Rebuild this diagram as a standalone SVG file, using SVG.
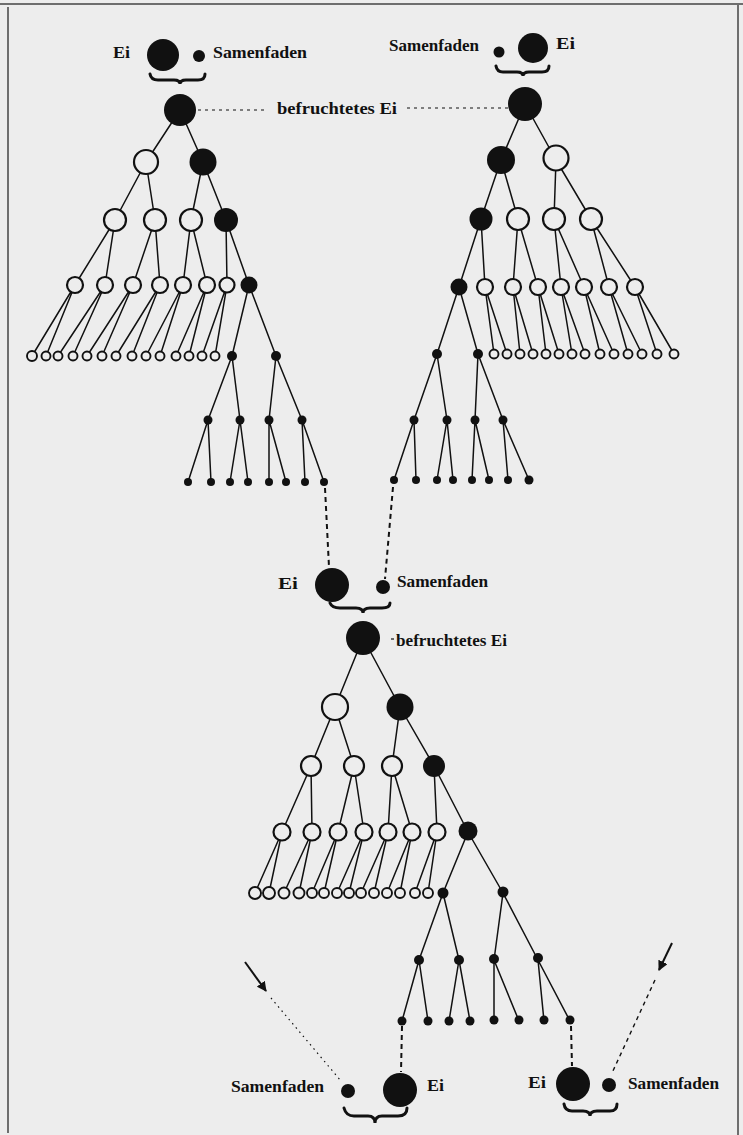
<svg xmlns="http://www.w3.org/2000/svg" width="743" height="1135" viewBox="0 0 743 1135">
<defs>
<style>
.e{stroke:#111;stroke-width:1.5;fill:none}
.o{fill:#ededed;stroke:#111;stroke-width:2.2}
.os{fill:#ededed;stroke:#111;stroke-width:1.9}
.f{fill:#111}
.d{stroke:#111;stroke-width:1.2;fill:none;stroke-dasharray:3 4}
.dv{stroke:#111;stroke-width:2;fill:none;stroke-dasharray:5 4}
.br{stroke:#111;stroke-width:3;fill:none;stroke-linecap:round}
.t{font-family:"Liberation Serif","DejaVu Serif",serif;font-weight:bold;font-size:16px;fill:#111}
.bd{stroke:#444;stroke-width:1.5;fill:none}
</style>
<marker id="ah" viewBox="0 0 10 10" refX="9" refY="5" markerWidth="5" markerHeight="5" orient="auto">
<path d="M0,0 L10,5 L0,10 z" fill="#111"/>
</marker>
</defs>
<rect width="743" height="1135" fill="#ededed"/>
<g id="border">
<path class="bd" d="M0,4 H743 M8,7 V1133 M738,5 V1135"/>
</g>
<g id="connectors">
<!-- top-left tree edges -->
<path class="e" d="M180,110 L146,162 M180,110 L203,162
M146,162 L115,220 M146,162 L155,220 M203,162 L191,220 M203,162 L226,220
M115,220 L75,285 M115,220 L105,285 M155,220 L133,285 M155,220 L160,285 M191,220 L183,285 M191,220 L207,285 M226,220 L227,285 M226,220 L249,285
M75,285 L32,356 M75,285 L46,356 M105,285 L58,356 M105,285 L73,356 M133,285 L87,356 M133,285 L102,356 M160,285 L116,356 M160,285 L132,356 M183,285 L146,356 M183,285 L160,356 M207,285 L176,356 M207,285 L189,356 M227,285 L202,356 M227,285 L215,356 M249,285 L232,356 M249,285 L276,356
M232,356 L208,420 M232,356 L240,420 M276,356 L269,420 M276,356 L302,420
M208,420 L188,482 M208,420 L211,482 M240,420 L230,482 M240,420 L248,482 M269,420 L269,482 M269,420 L286,482 M302,420 L305,482 M302,420 L324,482"/>
<!-- top-right tree edges -->
<path class="e" d="M525,104 L501,160 M525,104 L556,160
M501,160 L481,219 M501,160 L518,219 M556,160 L554,219 M556,160 L591,219
M481,219 L459,287 M481,219 L485,287 M518,219 L513,287 M518,219 L538,287 M554,219 L561,287 M554,219 L584,287 M591,219 L609,287 M591,219 L635,287
M459,287 L437,354 M459,287 L478,354 M485,287 L494,354 M485,287 L507,354 M513,287 L520,354 M513,287 L533,354 M538,287 L546,354 M538,287 L559,354 M561,287 L572,354 M561,287 L585,354 M584,287 L600,354 M584,287 L614,354 M609,287 L628,354 M609,287 L642,354 M635,287 L657,354 M635,287 L674,354
M437,354 L414,420 M437,354 L447,420 M478,354 L475,420 M478,354 L503,420
M414,420 L394,480 M414,420 L416,480 M447,420 L437,480 M447,420 L453,480 M475,420 L472,480 M475,420 L489,480 M503,420 L508,480 M503,420 L529,480"/>
<!-- bottom tree edges -->
<path class="e" d="M363,638 L335,707 M363,638 L400,707
M335,707 L311,766 M335,707 L354,766 M400,707 L392,766 M400,707 L434,766
M311,766 L282,832 M311,766 L312,832 M354,766 L338,832 M354,766 L364,832 M392,766 L388,832 M392,766 L412,832 M434,766 L437,832 M434,766 L468,832
M282,832 L255,893 M282,832 L269,893 M312,832 L284,893 M312,832 L299,893 M338,832 L312,893 M338,832 L324,893 M364,832 L337,893 M364,832 L349,893 M388,832 L361,893 M388,832 L374,893 M412,832 L387,893 M412,832 L400,893 M437,832 L415,893 M437,832 L428,893 M468,832 L443,893 M468,832 L503,893
M443,893 L419,960 M443,893 L459,960 M503,893 L494,960 M503,893 L538,960
M419,960 L402,1021 M419,960 L428,1021 M459,960 L449,1021 M459,960 L470,1021 M494,960 L494,1021 M494,960 L519,1021 M538,960 L544,1021 M538,960 L570,1021"/>
<!-- dashed connections -->
<path class="d" d="M198,110 H268"/>
<path class="d" d="M407,108 H508"/>
<path class="d" d="M391,639 H396"/>
<path class="dv" d="M325,488 L329,567"/>
<path class="dv" d="M393,487 L385,579"/>
<path class="dv" d="M402,1026 L401,1072"/>
<path class="dv" d="M571,1026 L572,1066"/>
<line x1="245" y1="962" x2="266" y2="991" stroke="#111" stroke-width="2" marker-end="url(#ah)"/>
<path d="M271,998 L341,1081" stroke="#111" stroke-width="1.2" fill="none" stroke-dasharray="1.5 4"/>
<line x1="672" y1="943" x2="659" y2="970" stroke="#111" stroke-width="2" marker-end="url(#ah)"/>
<path d="M655,980 L612,1073" stroke="#111" stroke-width="1.4" fill="none" stroke-dasharray="4 4"/>
<!-- braces -->
<path class="br" d="M150,74 Q151,80 158,80 L174,80 Q180,80 180,84 Q180,80 186,80 L198,80 Q205,80 205,74"/>
<path class="br" d="M496,66 Q497,72 503,72 L517,72 Q523,72 523,76 Q523,72 529,72 L542,72 Q549,72 549,66"/>
<path class="br" d="M330,603 Q332,608 340,608 L356,608 Q363,608 363,613 Q363,608 370,608 L382,608 Q390,608 390,603"/>
<path class="br" d="M344,1108 Q346,1116 354,1116 L368,1116 Q375,1116 375,1123 Q375,1116 382,1116 L398,1116 Q407,1116 407,1108"/>
<path class="br" d="M564,1104 Q565,1111 572,1111 L583,1111 Q590,1111 590,1116 Q590,1111 597,1111 L610,1111 Q617,1111 617,1104"/>
</g>
<!-- top-left gametes -->
<g id="egg_tl"><circle class="f" cx="163" cy="55" r="16"/></g>
<g id="sperm_tl"><circle class="f" cx="199" cy="56" r="6"/></g>
<g id="zyg_tl"><circle class="f" cx="180" cy="110" r="16"/></g>
<!-- top-left tree -->
<g id="a1a"><circle class="o" cx="146" cy="162" r="12"/></g>
<g id="a1b"><circle class="f" cx="203" cy="162" r="13.5"/></g>
<g id="a2a"><circle class="o" cx="115" cy="220" r="11"/></g>
<g id="a2b"><circle class="o" cx="155" cy="220" r="11"/></g>
<g id="a2c"><circle class="o" cx="191" cy="220" r="11"/></g>
<g id="a2d"><circle class="f" cx="226" cy="220" r="12"/></g>
<g id="a3a"><circle class="o" cx="75" cy="285" r="8"/></g>
<g id="a3b"><circle class="o" cx="105" cy="285" r="8"/></g>
<g id="a3c"><circle class="o" cx="133" cy="285" r="8"/></g>
<g id="a3d"><circle class="o" cx="160" cy="285" r="8"/></g>
<g id="a3e"><circle class="o" cx="183" cy="285" r="8"/></g>
<g id="a3f"><circle class="o" cx="207" cy="285" r="8"/></g>
<g id="a3g"><circle class="o" cx="227" cy="285" r="7.5"/></g>
<g id="a3h"><circle class="f" cx="249" cy="285" r="8.5"/></g>
<g id="a4a"><circle class="os" cx="32" cy="356" r="5"/></g>
<g id="a4b"><circle class="os" cx="46" cy="356" r="4.5"/></g>
<g id="a4c"><circle class="os" cx="58" cy="356" r="4.5"/></g>
<g id="a4d"><circle class="os" cx="73" cy="356" r="4.5"/></g>
<g id="a4e"><circle class="os" cx="87" cy="356" r="4.5"/></g>
<g id="a4f"><circle class="os" cx="102" cy="356" r="4.5"/></g>
<g id="a4g"><circle class="os" cx="116" cy="356" r="4.5"/></g>
<g id="a4h"><circle class="os" cx="132" cy="356" r="4.5"/></g>
<g id="a4i"><circle class="os" cx="146" cy="356" r="4.5"/></g>
<g id="a4j"><circle class="os" cx="160" cy="356" r="4.5"/></g>
<g id="a4k"><circle class="os" cx="176" cy="356" r="4.5"/></g>
<g id="a4l"><circle class="os" cx="189" cy="356" r="4.5"/></g>
<g id="a4m"><circle class="os" cx="202" cy="356" r="4.5"/></g>
<g id="a4n"><circle class="os" cx="215" cy="356" r="4.5"/></g>
<g id="a4o"><circle class="f" cx="232" cy="356" r="5"/></g>
<g id="a4p"><circle class="f" cx="276" cy="356" r="5"/></g>
<g id="a5a"><circle class="f" cx="208" cy="420" r="4.5"/></g>
<g id="a5b"><circle class="f" cx="240" cy="420" r="4.5"/></g>
<g id="a5c"><circle class="f" cx="269" cy="420" r="4.5"/></g>
<g id="a5d"><circle class="f" cx="302" cy="420" r="4.5"/></g>
<g id="a6a"><circle class="f" cx="188" cy="482" r="4"/></g>
<g id="a6b"><circle class="f" cx="211" cy="482" r="4"/></g>
<g id="a6c"><circle class="f" cx="230" cy="482" r="4"/></g>
<g id="a6d"><circle class="f" cx="248" cy="482" r="4"/></g>
<g id="a6e"><circle class="f" cx="269" cy="482" r="4"/></g>
<g id="a6f"><circle class="f" cx="286" cy="482" r="4"/></g>
<g id="a6g"><circle class="f" cx="305" cy="482" r="4"/></g>
<g id="a6h"><circle class="f" cx="324" cy="482" r="4"/></g>
<!-- top-right gametes -->
<g id="sperm_tr"><circle class="f" cx="499" cy="52" r="5.5"/></g>
<g id="egg_tr"><circle class="f" cx="533" cy="48" r="15"/></g>
<g id="zyg_tr"><circle class="f" cx="525" cy="104" r="17"/></g>
<!-- top-right tree -->
<g id="b1a"><circle class="f" cx="501" cy="160" r="14"/></g>
<g id="b1b"><circle class="o" cx="556" cy="158" r="12.5"/></g>
<g id="b2a"><circle class="f" cx="481" cy="219" r="11.5"/></g>
<g id="b2b"><circle class="o" cx="518" cy="219" r="11"/></g>
<g id="b2c"><circle class="o" cx="554" cy="219" r="11"/></g>
<g id="b2d"><circle class="o" cx="591" cy="219" r="11"/></g>
<g id="b3a"><circle class="f" cx="459" cy="287" r="8.5"/></g>
<g id="b3b"><circle class="o" cx="485" cy="287" r="8"/></g>
<g id="b3c"><circle class="o" cx="513" cy="287" r="8"/></g>
<g id="b3d"><circle class="o" cx="538" cy="287" r="8"/></g>
<g id="b3e"><circle class="o" cx="561" cy="287" r="8"/></g>
<g id="b3f"><circle class="o" cx="584" cy="287" r="8"/></g>
<g id="b3g"><circle class="o" cx="609" cy="287" r="8"/></g>
<g id="b3h"><circle class="o" cx="635" cy="287" r="8"/></g>
<g id="b4a"><circle class="f" cx="437" cy="354" r="5"/></g>
<g id="b4b"><circle class="f" cx="478" cy="354" r="5"/></g>
<g id="b4c"><circle class="os" cx="494" cy="354" r="4.5"/></g>
<g id="b4d"><circle class="os" cx="507" cy="354" r="4.5"/></g>
<g id="b4e"><circle class="os" cx="520" cy="354" r="4.5"/></g>
<g id="b4f"><circle class="os" cx="533" cy="354" r="4.5"/></g>
<g id="b4g"><circle class="os" cx="546" cy="354" r="4.5"/></g>
<g id="b4h"><circle class="os" cx="559" cy="354" r="4.5"/></g>
<g id="b4i"><circle class="os" cx="572" cy="354" r="4.5"/></g>
<g id="b4j"><circle class="os" cx="585" cy="354" r="4.5"/></g>
<g id="b4k"><circle class="os" cx="600" cy="354" r="4.5"/></g>
<g id="b4l"><circle class="os" cx="614" cy="354" r="4.5"/></g>
<g id="b4m"><circle class="os" cx="628" cy="354" r="4.5"/></g>
<g id="b4n"><circle class="os" cx="642" cy="354" r="4.5"/></g>
<g id="b4o"><circle class="os" cx="657" cy="354" r="4.5"/></g>
<g id="b4p"><circle class="os" cx="674" cy="354" r="4.5"/></g>
<g id="b5a"><circle class="f" cx="414" cy="420" r="4.5"/></g>
<g id="b5b"><circle class="f" cx="447" cy="420" r="4.5"/></g>
<g id="b5c"><circle class="f" cx="475" cy="420" r="4.5"/></g>
<g id="b5d"><circle class="f" cx="503" cy="420" r="4.5"/></g>
<g id="b6a"><circle class="f" cx="394" cy="480" r="4"/></g>
<g id="b6b"><circle class="f" cx="416" cy="480" r="4"/></g>
<g id="b6c"><circle class="f" cx="437" cy="480" r="4"/></g>
<g id="b6d"><circle class="f" cx="453" cy="480" r="4"/></g>
<g id="b6e"><circle class="f" cx="472" cy="480" r="4"/></g>
<g id="b6f"><circle class="f" cx="489" cy="480" r="4"/></g>
<g id="b6g"><circle class="f" cx="508" cy="480" r="4"/></g>
<g id="b6h"><circle class="f" cx="529" cy="480" r="4.5"/></g>
<!-- middle gametes -->
<g id="egg_m"><circle class="f" cx="332" cy="585" r="17"/></g>
<g id="sperm_m"><circle class="f" cx="383" cy="587" r="7"/></g>
<g id="zyg_m"><circle class="f" cx="363" cy="638" r="17"/></g>
<!-- bottom tree -->
<g id="c1a"><circle class="o" cx="335" cy="707" r="13"/></g>
<g id="c1b"><circle class="f" cx="400" cy="707" r="13.5"/></g>
<g id="c2a"><circle class="o" cx="311" cy="766" r="10"/></g>
<g id="c2b"><circle class="o" cx="354" cy="766" r="10"/></g>
<g id="c2c"><circle class="o" cx="392" cy="766" r="10"/></g>
<g id="c2d"><circle class="f" cx="434" cy="766" r="11"/></g>
<g id="c3a"><circle class="o" cx="282" cy="832" r="8.5"/></g>
<g id="c3b"><circle class="o" cx="312" cy="832" r="8.5"/></g>
<g id="c3c"><circle class="o" cx="338" cy="832" r="8.5"/></g>
<g id="c3d"><circle class="o" cx="364" cy="832" r="8.5"/></g>
<g id="c3e"><circle class="o" cx="388" cy="832" r="8.5"/></g>
<g id="c3f"><circle class="o" cx="412" cy="832" r="8.5"/></g>
<g id="c3g"><circle class="o" cx="437" cy="832" r="8.5"/></g>
<g id="c3h"><circle class="f" cx="468" cy="831" r="9.5"/></g>
<g id="c4a"><circle class="os" cx="255" cy="893" r="6"/></g>
<g id="c4b"><circle class="os" cx="269" cy="893" r="6"/></g>
<g id="c4c"><circle class="os" cx="284" cy="893" r="5.5"/></g>
<g id="c4d"><circle class="os" cx="299" cy="893" r="5.5"/></g>
<g id="c4e"><circle class="os" cx="312" cy="893" r="5"/></g>
<g id="c4f"><circle class="os" cx="324" cy="893" r="5"/></g>
<g id="c4g"><circle class="os" cx="337" cy="893" r="5"/></g>
<g id="c4h"><circle class="os" cx="349" cy="893" r="5"/></g>
<g id="c4i"><circle class="os" cx="361" cy="893" r="5"/></g>
<g id="c4j"><circle class="os" cx="374" cy="893" r="5"/></g>
<g id="c4k"><circle class="os" cx="387" cy="893" r="5"/></g>
<g id="c4l"><circle class="os" cx="400" cy="893" r="5"/></g>
<g id="c4m"><circle class="os" cx="415" cy="893" r="5"/></g>
<g id="c4n"><circle class="os" cx="428" cy="893" r="5"/></g>
<g id="c4o"><circle class="f" cx="443" cy="893" r="5.5"/></g>
<g id="c4p"><circle class="f" cx="503" cy="892" r="5.5"/></g>
<g id="c5a"><circle class="f" cx="419" cy="960" r="5"/></g>
<g id="c5b"><circle class="f" cx="459" cy="960" r="5"/></g>
<g id="c5c"><circle class="f" cx="494" cy="959" r="5"/></g>
<g id="c5d"><circle class="f" cx="538" cy="958" r="5"/></g>
<g id="c6a"><circle class="f" cx="402" cy="1021" r="4.5"/></g>
<g id="c6b"><circle class="f" cx="428" cy="1021" r="4.5"/></g>
<g id="c6c"><circle class="f" cx="449" cy="1021" r="4.5"/></g>
<g id="c6d"><circle class="f" cx="470" cy="1021" r="4.5"/></g>
<g id="c6e"><circle class="f" cx="494" cy="1020" r="4.5"/></g>
<g id="c6f"><circle class="f" cx="519" cy="1020" r="4.5"/></g>
<g id="c6g"><circle class="f" cx="544" cy="1020" r="4.5"/></g>
<g id="c6h"><circle class="f" cx="570" cy="1020" r="4.5"/></g>
<!-- bottom gametes -->
<g id="sperm_bl"><circle class="f" cx="348" cy="1091" r="7"/></g>
<g id="egg_bl"><circle class="f" cx="400" cy="1090" r="17"/></g>
<g id="egg_br"><circle class="f" cx="573" cy="1084" r="17"/></g>
<g id="sperm_br"><circle class="f" cx="609" cy="1085" r="7"/></g>
<!-- labels -->
<g id="labels">
<text class="t" x="113" y="58" textLength="17" lengthAdjust="spacingAndGlyphs">Ei</text>
<text class="t" x="213" y="58" textLength="94" lengthAdjust="spacingAndGlyphs">Samenfaden</text>
<text class="t" x="277" y="114" textLength="120" lengthAdjust="spacingAndGlyphs">befruchtetes Ei</text>
<text class="t" x="389" y="51" textLength="90" lengthAdjust="spacingAndGlyphs">Samenfaden</text>
<text class="t" x="556" y="49" textLength="19" lengthAdjust="spacingAndGlyphs">Ei</text>
<text class="t" x="278" y="589" textLength="20" lengthAdjust="spacingAndGlyphs">Ei</text>
<text class="t" x="397" y="587" textLength="91" lengthAdjust="spacingAndGlyphs">Samenfaden</text>
<text class="t" x="396" y="646" textLength="111" lengthAdjust="spacingAndGlyphs">befruchtetes Ei</text>
<text class="t" x="231" y="1092" textLength="93" lengthAdjust="spacingAndGlyphs">Samenfaden</text>
<text class="t" x="427" y="1091" textLength="17" lengthAdjust="spacingAndGlyphs">Ei</text>
<text class="t" x="528" y="1088" textLength="18" lengthAdjust="spacingAndGlyphs">Ei</text>
<text class="t" x="628" y="1089" textLength="91" lengthAdjust="spacingAndGlyphs">Samenfaden</text>
</g>
</svg>
